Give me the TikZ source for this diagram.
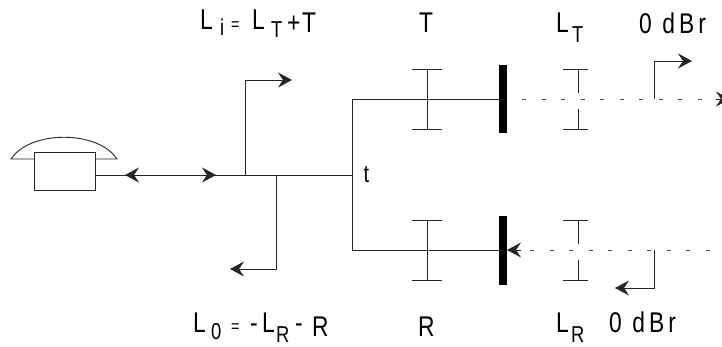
\documentclass[tikz,border=0pt]{standalone}
\usepackage{fontspec}
\setmainfont{Liberation Sans}
\usetikzlibrary{arrows.meta}
% one fragment of a label: shift right #1, raise #2, size #3, text #4
\newcommand{\fr}[4]{\rlap{\hspace{#1pt}\raisebox{#2pt}{\scalebox{.8}[1]{\fontsize{#3}{#3}\selectfont #4}}}}
\newcommand{\dbr}{\scalebox{.8}[1]{\fontsize{28.5}{28.5}\selectfont\addfontfeature{LetterSpace=18}0 dBr}}
\tikzset{
  wire/.style={draw=black!85,line width=.9pt},
  head/.style={-{Stealth[length=14pt,width=15pt,inset=5pt]}},
  dots/.style={draw=black!70,line width=.9pt,dash pattern=on 4pt off 15.5pt},
  bar/.style={fill=black,draw=none,minimum width=8pt,inner sep=0pt,outer sep=0pt},
  tight/.style={inner sep=0pt,outer sep=0pt,minimum size=0pt},
  txt/.style={inner sep=0pt,anchor=base west}
}
\begin{document}
\begin{tikzpicture}[x=1pt,y=-1pt]
\useasboundingbox (0,0) rectangle (722,347);
\clip (0,0) rectangle (722,347);
% telephone
\node[wire,draw,tight,minimum width=61pt,minimum height=38pt] (set) at (64.5,171) {};
\coordinate (hl) at (11,159);
\coordinate (hr) at (117,159);
\draw[wire] (set.west |- hl) -- (hl) .. controls (30,130) and (98,130) .. (hr) -- (set.east |- hr);
% main line
\coordinate (a1) at (95,175);
\coordinate (tl) at (125,175);
\coordinate (tr) at (216,175);
\coordinate (ju1) at (245,175);
\coordinate (ju2) at (276,175);
\coordinate (ju3) at (352,175);
\draw[wire] (a1) -- (ju3);
\draw[wire,head] (ju1) -- (tl);
\draw[wire,head] (a1) -- (tr);
% loss branches
\coordinate (u1) at (245,80);
\coordinate (u2) at (292,80);
\draw[wire,head] (ju1) -- (u1) -- (u2);
\coordinate (d1) at (276,269);
\coordinate (d2) at (230,269);
\draw[wire,head] (ju2) -- (d1) -- (d2);
% hybrid
\node[bar,minimum height=68pt] (bt) at (503,99) {};
\node[bar,minimum height=69pt] (bb) at (503,250.5) {};
\coordinate (h1) at (352,99);
\coordinate (h2) at (352,250);
\draw[wire] (bt.center) -- (h1) -- (h2) -- (bb.center |- h2);
% attenuators T and R
\foreach \n/\x/\y in {t/427/99,r/427/250}{
  \coordinate (\n a) at (\x,\y-30);
  \coordinate (\n b) at (\x,\y+30);
  \draw[wire] (\n a) -- (\n b);
  \draw[wire] ([xshift=-15pt]\n a) -- ([xshift=15pt]\n a);
  \draw[wire] ([xshift=-15pt]\n b) -- ([xshift=15pt]\n b);
}
% attenuators LT and LR
\foreach \n/\y in {p/99,q/250}{
  \coordinate (\n a) at (578,\y-30);
  \coordinate (\n b) at (578,\y+30);
  \coordinate (\n c) at (578,\y-6);
  \coordinate (\n d) at (578,\y+10);
  \draw[wire] (\n a) -- (\n c);
  \draw[wire] (\n d) -- (\n b);
  \draw[wire] ([xshift=-15pt]\n a) -- ([xshift=10pt]\n a);
  \draw[wire] ([xshift=-15pt]\n b) -- ([xshift=10pt]\n b);
}
% dotted lines
\coordinate (rt) at (730,99);
\coordinate (rb) at (722,250);
\path[dots,draw] (522,99) -- (712,99);
\draw[wire,head] (716,99) -- (rt);
\path[dots,draw] (530,250) -- (rb);
\draw[wire,head] (521,250) -- (bb.east |- rb);
% 0 dBr marks
\coordinate (m0) at (654,99);
\coordinate (m1) at (654,61);
\coordinate (m2) at (692,61);
\draw[wire,head] (m0) -- (m1) -- (m2);
\coordinate (n0) at (654,250);
\coordinate (n1) at (654,288);
\coordinate (n2) at (615,288);
\draw[wire,head] (n0) -- (n1) -- (n2);
% labels
\node[txt] (l1) at (199.5,30) {\fr{0}{0}{28.5}{L}\fr{20}{-6}{23}{i}\fr{31}{-1}{18}{=}\fr{52}{0}{28.5}{L}\fr{71}{-8}{23}{T}\fr{87}{-3}{28.5}{+}\fr{102}{-3}{28.5}{T}};
\node[txt] (l2) at (418.5,33) {\fr{0}{0}{28.5}{T}};
\node[txt] (l3) at (555.5,33) {\fr{0}{0}{28.5}{L}\fr{16}{-10}{23}{T}};
\node[txt] (l4) at (639,34) {\dbr};
\node[txt] (l5) at (363,183) {\fr{0}{0}{25}{t}};
\node[txt] (l6) at (192.5,332) {\fr{0}{0}{28.5}{L}\fr{18}{-7}{23}{0}\fr{38}{0}{18}{=}\fr{57}{0}{28.5}{-}\fr{69}{0}{28.5}{L}\fr{83}{-10}{23}{R}\fr{102}{0}{28.5}{-}\fr{119}{-4}{28.5}{R}};
\node[txt] (l7) at (417.5,336) {\fr{0}{0}{28.5}{R}};
\node[txt] (l8) at (555.5,332) {\fr{0}{0}{28.5}{L}\fr{15}{-10}{23}{R}};
\node[txt] (l9) at (609,332) {\dbr};
\end{tikzpicture}
\end{document}
